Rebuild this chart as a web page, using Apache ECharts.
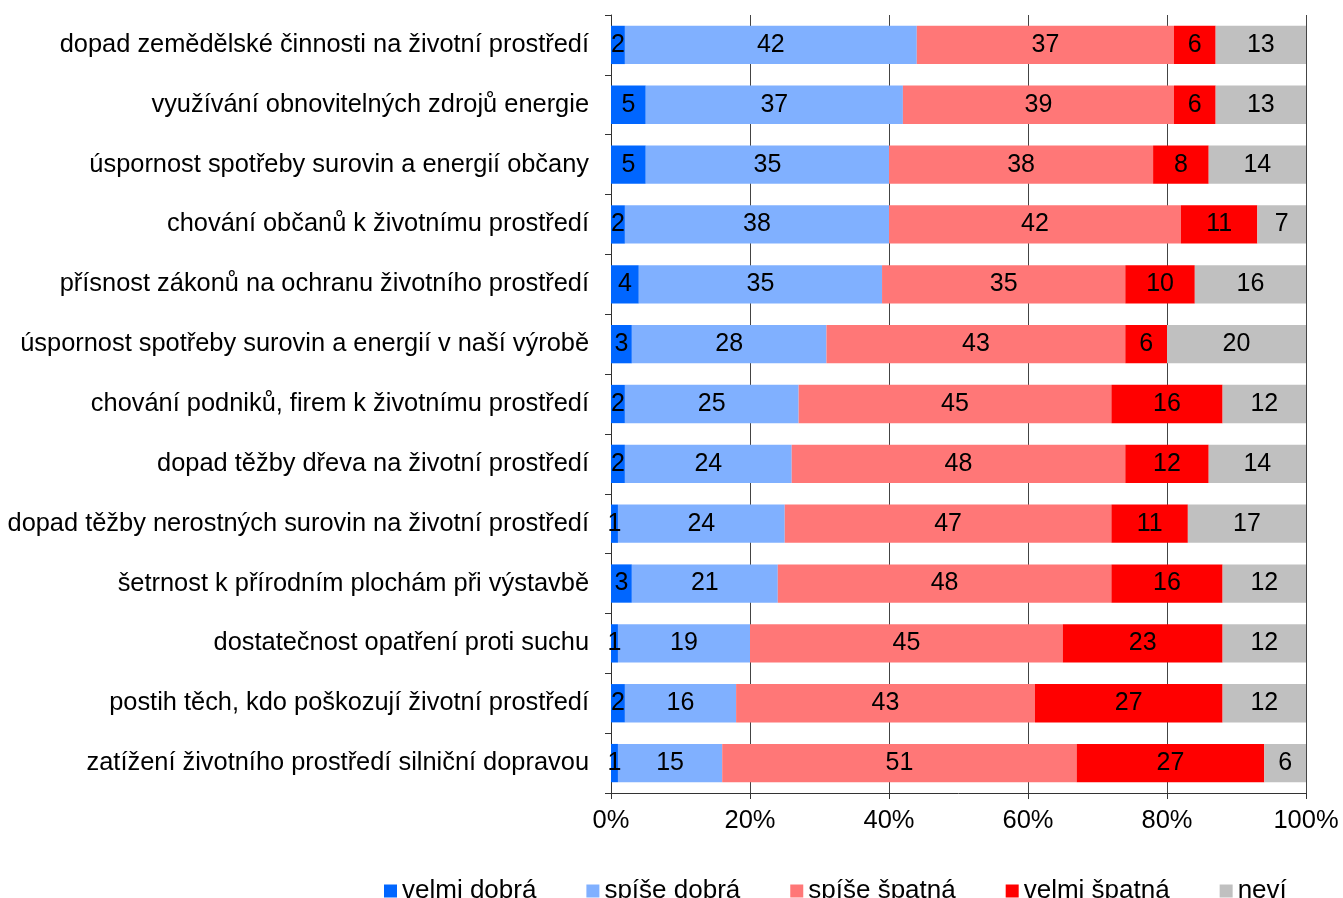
<!DOCTYPE html>
<html>
<head>
<meta charset="utf-8">
<script src="https://cdn.jsdelivr.net/npm/echarts@6/dist/echarts.min.js"></script>
<style>
  html, body { margin: 0; padding: 0; background: #fff; }
  #main { width: 1343px; height: 898px; }
</style>
</head>
<body>
<div id="main"></div>
<script>
var categories = [
	'dopad zemědělské činnosti na životní prostředí',
	'využívání obnovitelných zdrojů energie',
	'úspornost spotřeby surovin a energií občany',
	'chování občanů k životnímu prostředí',
	'přísnost zákonů na ochranu životního prostředí',
	'úspornost spotřeby surovin a energií v naší výrobě',
	'chování podniků, firem k životnímu prostředí',
	'dopad těžby dřeva na životní prostředí',
	'dopad těžby nerostných surovin na životní prostředí',
	'šetrnost k přírodním plochám při výstavbě',
	'dostatečnost opatření proti suchu',
	'postih těch, kdo poškozují životní prostředí',
	'zatížení životního prostředí silniční dopravou'
];
var velmiDobra  = [2, 5, 5, 2, 4, 3, 2, 2, 1, 3, 1, 2, 1];
var spiseDobra  = [42, 37, 35, 38, 35, 28, 25, 24, 24, 21, 19, 16, 15];
var spiseSpatna = [37, 39, 38, 42, 35, 43, 45, 48, 47, 48, 45, 43, 51];
var velmiSpatna = [6, 6, 8, 11, 10, 6, 16, 12, 11, 16, 23, 27, 27];
var nevi        = [13, 13, 14, 7, 16, 20, 12, 14, 17, 12, 12, 12, 6];
var tickLabels  = ['0%', '20%', '40%', '60%', '80%', '100%'];

var font = 'Liberation Sans, Arial, sans-serif';

function mkSeries(name, data, color) {
	return {
		name: name,
		type: 'bar',
		stack: 'all',
		barCategoryGap: '36%',
		data: data,
		itemStyle: { color: color },
		label: {
			show: true,
			position: 'inside',
			color: '#000',
			fontSize: 25,
			fontFamily: font
		}
	};
}

var myChart = echarts.init(document.getElementById('main'));
var option = {
	animation: false,
	backgroundColor: '#fff',
	grid: { left: 611, right: 37, top: 15, bottom: 105, containLabel: false },
	legend: {
		left: 379,
		top: 873,
		itemWidth: 13,
		itemHeight: 13,
		itemGap: 50,
		icon: 'rect',
		textStyle: { fontSize: 26, fontFamily: font, color: '#000' }
	},
	xAxis: {
		type: 'value',
		min: 0,
		max: 100,
		interval: 20,
		axisLine: { show: true, lineStyle: { color: '#333' } },
		axisTick: { show: true, length: 6, lineStyle: { color: '#333' } },
		splitLine: { show: true, lineStyle: { color: '#444', width: 1 } },
		axisLabel: {
			margin: 15,
			fontSize: 25.5,
			fontFamily: font,
			color: '#000',
			formatter: function(v) { return tickLabels[Math.round(v / 20)]; }
		}
	},
	yAxis: {
		type: 'category',
		inverse: true,
		data: categories,
		axisLine: { show: true, lineStyle: { color: '#333' } },
		axisTick: { show: true, length: 6, lineStyle: { color: '#333' } },
		axisLabel: {
			margin: 22,
			fontSize: 25.4,
			fontFamily: font,
			color: '#000'
		}
	},
	series: [
		mkSeries('velmi dobrá', velmiDobra, '#0066ff'),
		mkSeries('spíše dobrá', spiseDobra, '#80b0ff'),
		mkSeries('spíše špatná', spiseSpatna, '#ff7777'),
		mkSeries('velmi špatná', velmiSpatna, '#ff0000'),
		mkSeries('neví', nevi, '#c0c0c0')
	]
};
myChart.setOption(option);
</script>
</body>
</html>
